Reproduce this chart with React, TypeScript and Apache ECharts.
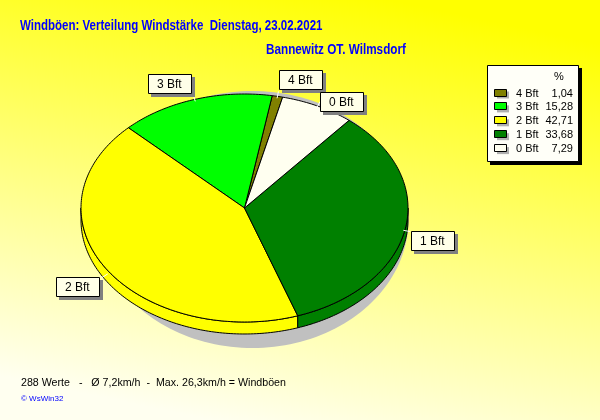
import React, { useEffect, useRef } from 'react';
import * as echarts from 'echarts';

const categories = ['4 Bft', '3 Bft', '2 Bft', '1 Bft', '0 Bft'];
const percentages = [1.04, 15.28, 42.71, 33.68, 7.29];
const sliceColors = ['#808000', '#00ff00', '#ffff00', '#008000', '#fffff0'];
const titleText = 'Windböen: Verteilung Windstärke  Dienstag, 23.02.2021';
const subtitleText = 'Bannewitz OT. Wilmsdorf';
const footerText = '288 Werte   -   Ø 7,2km/h  -  Max. 26,3km/h = Windböen';
const creditText = '© WsWin32';
const legendHeader = '%';

const CX = 244.5, CY = 208, RX = 163.5, RY = 114, DEPTH = 12, START_ANGLE = 76.5;
const FONT = '"Liberation Sans", Arial, sans-serif';

const rad = (d: number) => (d * Math.PI) / 180;
const pt = (deg: number, dy = 0): number[] => [CX + RX * Math.cos(rad(deg)), CY - RY * Math.sin(rad(deg)) + dy];
const arc = (a0: number, a1: number, dy = 0): number[][] => {
  const n = Math.max(2, Math.ceil(a1 - a0));
  const out: number[][] = [];
  for (let k = 0; k <= n; k++) out.push(pt(a0 + ((a1 - a0) * k) / n, dy));
  return out;
};

function sliceAngles(): number[][] {
  const total = percentages.reduce((a, b) => a + b, 0);
  let acc = START_ANGLE;
  return percentages.map((v) => {
    const a0 = acc;
    acc += (v / total) * 360;
    return [a0, acc];
  });
}

function labelBoxes(angles: number[][]) {
  const boxes: any[] = [];
  angles.forEach(([a0, a1]) => {
    const m = (a0 + a1) / 2;
    const c = Math.cos(rad(m)), s = Math.sin(rad(m));
    const e = pt(m);
    const ax = e[0], ay = e[1] + DEPTH * Math.max(0, -s);
    const w = 43, h = 19;
    const left = ax + 6 * c - (c < 0 ? w + 2 : 0);
    let top = ay - 6 * s - (s > 0 ? h : 0) - 1;
    for (const b of boxes) {
      if (left < b.left + b.w + 2 && left + w + 2 > b.left && top < b.top + b.h + 2 && top + h + 2 > b.top) {
        top = b.top + b.h + 3;
      }
    }
    boxes.push({ left, top, w, h, ax, ay, c, s });
  });
  return boxes;
}

export default function App() {
  const ref = useRef<HTMLDivElement>(null);
  useEffect(() => {
    if (!ref.current) return;
    const chart = echarts.init(ref.current, undefined, { renderer: 'svg' });
    const angles = sliceAngles();
    const boxes = labelBoxes(angles);

    const legendX = 487, legendY = 65, legendW = 91, legendH = 96, rowY0 = 92.5, rowStep = 13.9;
    const legendEls: any[] = [
      { type: 'rect', shape: { x: legendX + 3, y: legendY + 3, width: legendW + 1, height: legendH + 1 }, style: { fill: '#000' } },
      { type: 'rect', shape: { x: legendX + 0.5, y: legendY + 0.5, width: legendW, height: legendH }, style: { fill: '#fffff8', stroke: '#000', lineWidth: 1 } },
      { type: 'text', x: 559, y: 76, style: { text: legendHeader, font: '11px ' + FONT, fill: '#000', align: 'center', verticalAlign: 'middle', textAlign: 'center', textVerticalAlign: 'middle' } },
    ];
    categories.forEach((name, i) => {
      const y = rowY0 + i * rowStep;
      legendEls.push(
        { type: 'rect', shape: { x: 497, y: y - 1, width: 12, height: 7 }, style: { fill: '#b0b0b0' } },
        { type: 'rect', shape: { x: 494.5, y: Math.round(y - 4) + 0.5, width: 12, height: 7 }, style: { fill: sliceColors[i], stroke: '#000', lineWidth: 1 } },
        { type: 'text', x: 516, y, style: { text: name, font: '11px ' + FONT, fill: '#000', align: 'left', verticalAlign: 'middle', textAlign: 'left', textVerticalAlign: 'middle' } },
        { type: 'text', x: 573, y, style: { text: percentages[i].toFixed(2).replace('.', ','), font: '11px ' + FONT, fill: '#000', align: 'right', verticalAlign: 'middle', textAlign: 'right', textVerticalAlign: 'middle' } },
      );
    });

    chart.setOption({
      animation: false,
      graphic: [
        {
          type: 'rect', z: -100, shape: { x: 0, y: 0, width: 600, height: 420 },
          style: { fill: new echarts.graphic.LinearGradient(0.65, 0, 0.35, 1, [{ offset: 0, color: '#ffff00' }, { offset: 1, color: '#fffff0' }]) },
        },
        { type: 'text', x: 20, y: 25.5, scaleX: 0.823, style: { text: titleText, font: 'bold 14px ' + FONT, fill: '#0000ff', verticalAlign: 'middle', textVerticalAlign: 'middle' } },
        { type: 'text', x: 266, y: 49.5, scaleX: 0.838, style: { text: subtitleText, font: 'bold 14px ' + FONT, fill: '#0000ff', verticalAlign: 'middle', textVerticalAlign: 'middle' } },
        { type: 'text', x: 21, y: 382, scaleX: 0.97, style: { text: footerText, font: '11px ' + FONT, fill: '#000', verticalAlign: 'middle', textVerticalAlign: 'middle' } },
        { type: 'text', x: 21, y: 398, style: { text: creditText, font: '8px ' + FONT, fill: '#0000ff', verticalAlign: 'middle', textVerticalAlign: 'middle' } },
        ...legendEls,
      ],
      series: [
        {
          type: 'custom',
          coordinateSystem: 'none',
          silent: true,
          data: percentages.map((v, i) => ({ name: categories[i], value: v })),
          renderItem: (params: any, api: any) => {
            const i = params.dataIndex;
            const [a0, a1] = angles[i];
            const color = sliceColors[i];
            const children: any[] = [];
            if (i === 0) {
              const sh: number[][] = [];
              for (let k = 0; k < 360; k += 2) sh.push([CX + 8 + 156 * Math.cos(rad(k)), 219.5 - 128.5 * Math.sin(rad(k))]);
              children.push({ type: 'polygon', shape: { points: sh }, style: { fill: '#c0c0c0' } });
            }
            const s = Math.max(a0, 180), e = Math.min(a1, 360);
            if (e > s) {
              children.push({
                type: 'polygon',
                shape: { points: [...arc(s, e, 0), ...arc(s, e, DEPTH).reverse()] },
                style: { fill: color, stroke: '#000', lineWidth: 1 },
              });
            }
            children.push({
              type: 'polygon',
              shape: { points: [[CX, CY], ...arc(a0, a1, 0)] },
              style: { fill: color, stroke: '#000', lineWidth: 1 },
            });
            const b = boxes[i];
            children.push(
              { type: 'line', z2: 10, shape: { x1: b.ax - 2 * b.c, y1: b.ay + 2 * b.s, x2: b.ax + 5 * b.c, y2: b.ay - 5 * b.s }, style: { stroke: '#ffffff', lineWidth: 1 } },
              { type: 'rect', z2: 10, shape: { x: Math.round(b.left) + 3, y: Math.round(b.top) + 3, width: b.w + 1, height: b.h + 1 }, style: { fill: '#808080' } },
              { type: 'rect', z2: 11, shape: { x: Math.round(b.left) + 0.5, y: Math.round(b.top) + 0.5, width: b.w, height: b.h }, style: { fill: '#ffffe8', stroke: '#000', lineWidth: 1 } },
              { type: 'text', z2: 12, style: { text: api.value(0) >= 0 ? categories[i] : '', x: Math.round(b.left) + 9, y: Math.round(b.top) + 10, font: '12px ' + FONT, fill: '#000', align: 'left', verticalAlign: 'middle', textAlign: 'left', textVerticalAlign: 'middle' } },
            );
            return { type: 'group', children };
          },
        },
      ],
    });
    return () => chart.dispose();
  }, []);
  return <div ref={ref} style={{ position: 'fixed', left: 0, top: 0, width: 600, height: 420 }} />;
}
